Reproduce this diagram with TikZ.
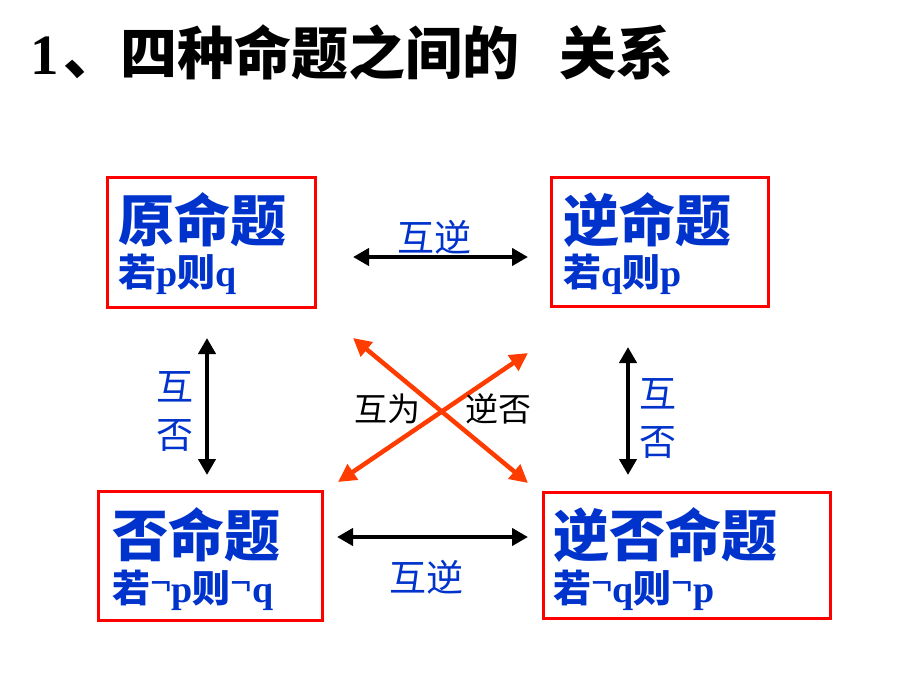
\documentclass[tikz,border=0pt]{standalone}
\usepackage{fontspec}
\setmainfont{Liberation Serif}
\newfontfamily\cjk{Noto Sans CJK SC}
\usetikzlibrary{arrows.meta}

\definecolor{propblue}{RGB}{0,51,204}
\definecolor{propred}{RGB}{255,0,0}
\definecolor{crossred}{RGB}{255,60,0}

\newcommand\zh[1]{{\cjk #1}}
\newcommand\notsign{\raisebox{7pt}{¬}}

\begin{document}
\begin{tikzpicture}[
    x = 1pt, y = -1pt,
    propbox/.style = {draw = propred, line width = 3pt, inner sep = 0pt},
    bigname/.style = {anchor = base west, inner sep = 0pt, text = propblue,
        font = \cjk\bfseries\fontsize{56}{60}\selectfont},
    ruleline/.style = {anchor = base west, inner sep = 0pt, text = propblue,
        font = \bfseries\fontsize{38}{40}\selectfont},
    relword/.style = {inner sep = 0pt, text = propblue,
        font = \cjk\fontsize{37}{40}\selectfont},
    crossword/.style = {inner sep = 0pt,
        font = \cjk\fontsize{33}{36}\selectfont},
    pairarrow/.style = {line width = 4pt,
        {Triangle[length=16pt, width=17pt]}-{Triangle[length=16pt, width=17pt]}},
    crossarrow/.style = {line width = 4.5pt, draw = crossred,
        {Triangle[length=18pt, width=18pt]}-{Triangle[length=18pt, width=18pt]}}]

\fill[white] (0,0) rectangle (920,690);
\useasboundingbox (0,0) rectangle (920,690);

% title
\node[anchor = base west, inner sep = 0pt, font = \bfseries\fontsize{57}{60}\selectfont]
    (title) at (30,75) {1\hspace{5pt}\zh{、四种命题之间的\hspace{40pt}关系}};

% the four propositions
\node[propbox, minimum width = 208pt, minimum height = 130pt] (orig) at (211,242) {};
\node[propbox, minimum width = 217pt, minimum height = 129pt] (conv) at (659.5,241.5) {};
\node[propbox, minimum width = 224pt, minimum height = 129pt] (inv)  at (210,555.5) {};
\node[propbox, minimum width = 287pt, minimum height = 126pt] (contra) at (686.5,555) {};

\node[bigname] (origname)   at (118,241) {原命题};
\node[ruleline] (origrule)  at (118,286) {\zh{若}p\zh{则}q};
\node[bigname] (convname)   at (563,241) {逆命题};
\node[ruleline] (convrule)  at (563,286) {\zh{若}q\zh{则}p};
\node[bigname] (invname)    at (112,556) {否命题};
\node[ruleline] (invrule)   at (112,602) {\zh{若}\notsign p\zh{则}\notsign q};
\node[bigname] (contraname) at (553,556) {逆否命题};
\node[ruleline] (contrarule) at (553,602) {\zh{若}\notsign q\zh{则}\notsign p};

% arrows between them
\coordinate (topL) at (353,257);   \coordinate (topR) at (528,257);
\coordinate (botL) at (337,537);   \coordinate (botR) at (528,537);
\coordinate (leftT) at (207,338);  \coordinate (leftB) at (207,475);
\coordinate (rightT) at (628,347); \coordinate (rightB) at (628,475);
\coordinate (crossA) at (353,338); \coordinate (crossB) at (528,483);
\coordinate (crossC) at (528,353); \coordinate (crossD) at (338,482);

\draw[pairarrow] (topL) -- (topR);
\draw[pairarrow] (botL) -- (botR);
\draw[pairarrow] (leftT) -- (leftB);
\draw[pairarrow] (rightT) -- (rightB);
\draw[crossarrow] (crossA) -- (crossB);
\draw[crossarrow] (crossC) -- (crossD);

\node[relword] (topword) at (434,237) {互逆};
\node[relword] (botword) at (426,577) {互逆};
\node[relword] (leftup)  at (175,387) {互};
\node[relword] (leftlow) at (175,435) {否};
\node[relword] (rightup)  at (658,394) {互};
\node[relword] (rightlow) at (658,442) {否};
\node[crossword] (crossleft)  at (387,409) {互为};
\node[crossword] (crossright) at (498,409) {逆否};
\end{tikzpicture}
\end{document}
